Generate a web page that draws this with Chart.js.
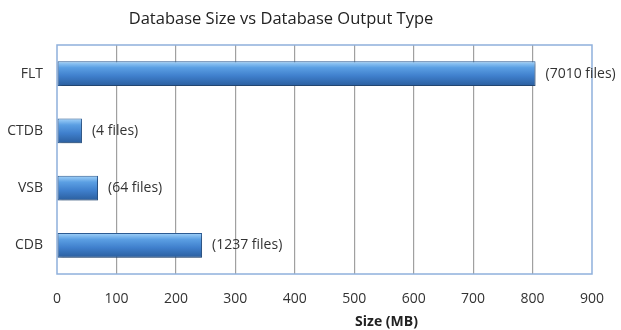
<!DOCTYPE html>
<html>
<head>
<meta charset="utf-8">
<script src="https://cdn.jsdelivr.net/npm/chart.js@4"></script>
<style>
  body { margin: 0; background: #fff; }
  #wrap { width: 621px; height: 330px; }
</style>
</head>
<body>
<div id="wrap"><canvas id="sizeChart" width="621" height="330"></canvas></div>
<script>
// Database size per output type
const categories = ['FLT', 'CTDB', 'VSB', 'CDB'];
const sizesMB = [805, 42, 69, 244];
const fileLabels = ['(7010 files)', '(4 files)', '(64 files)', '(1237 files)'];
const chartTitle = 'Database Size vs Database Output Type';
const axisTitle = 'Size (MB)';

const FONT = "'Open Sans', sans-serif";

// 3D-ish shading for each bar, built from the bar's own pixel position
function barFill(context) {
  const chart = context.chart;
  const yScale = chart.scales.y;
  if (!chart.chartArea || !yScale) return '#4a86cf';
  const el = chart.getDatasetMeta(0).data[context.dataIndex];
  const cy = yScale.getPixelForValue(context.dataIndex);
  const h = el && el.height ? el.height : 24;
  const g = chart.ctx.createLinearGradient(0, cy - h / 2, 0, cy + h / 2);
  g.addColorStop(0, '#9fd0f8');
  g.addColorStop(0.25, '#5b9fe3');
  g.addColorStop(0.6, '#3f7fcc');
  g.addColorStop(1, '#2b5f9f');
  return g;
}

// Frame, titles, bar shadow and the "(n files)" labels
const extras = {
  id: 'extras',
  beforeDatasetsDraw(chart) {
    const { ctx, chartArea: a } = chart;
    ctx.save();
    ctx.strokeStyle = '#8fb0dc';
    ctx.lineWidth = 1.5;
    ctx.strokeRect(a.left, a.top, a.right - a.left, a.bottom - a.top);
    ctx.restore();
  },
  beforeDatasetDraw(chart) {
    const ctx = chart.ctx;
    ctx.save();
    ctx.shadowColor = 'rgba(0,0,0,0.3)';
    ctx.shadowOffsetX = 1;
    ctx.shadowOffsetY = 2;
    ctx.shadowBlur = 3;
  },
  afterDatasetDraw(chart) {
    chart.ctx.restore();
  },
  afterDatasetsDraw(chart) {
    const { ctx, chartArea: a } = chart;
    const meta = chart.getDatasetMeta(0);
    ctx.save();
    ctx.font = '14px ' + FONT;
    ctx.fillStyle = '#333';
    ctx.textBaseline = 'middle';
    meta.data.forEach((bar, i) => {
      ctx.fillText(fileLabels[i], bar.x + 10, bar.y);
    });
    ctx.textAlign = 'center';
    // chart title
    ctx.font = '16.5px ' + FONT;
    ctx.fillStyle = '#222';
    ctx.fillText(chartTitle, 281, 19);
    // x axis title (sits right of centre in the original)
    ctx.font = 'bold 14px ' + FONT;
    ctx.fillText(axisTitle, (a.left + a.right) / 2 + 62, 322);
    ctx.restore();
  }
};

const ctx = document.getElementById('sizeChart').getContext('2d');
new Chart(ctx, {
  type: 'bar',
  data: {
    labels: categories,
    datasets: [{
      data: sizesMB,
      backgroundColor: barFill,
      borderColor: '#2d5c95',
      borderWidth: 1,
      borderSkipped: false,
      categoryPercentage: 0.43,
      barPercentage: 1
    }]
  },
  options: {
    indexAxis: 'y',
    responsive: false,
    animation: false,
    layout: { padding: { top: 45, right: 26, left: 0, bottom: 0 } },
    plugins: {
      legend: { display: false },
      title: { display: false },
      tooltip: { enabled: false }
    },
    scales: {
      x: {
        min: 0,
        max: 900,
        ticks: { stepSize: 100, padding: 17, color: '#333', font: { family: FONT, size: 14 } },
        grid: {
          drawTicks: false,
          color: c => (c.index === 0 || c.tick.value === 900) ? 'rgba(0,0,0,0)' : '#a0a0a0',
          lineWidth: 1.2
        },
        border: { display: false },
        afterFit: s => { s.height = 56; }
      },
      y: {
        ticks: { padding: 14, color: '#333', font: { family: FONT, size: 14 } },
        grid: { display: false, drawTicks: false },
        border: { display: false },
        afterFit: s => { s.width = 57; }
      }
    }
  },
  plugins: [extras]
});
</script>
</body>
</html>
